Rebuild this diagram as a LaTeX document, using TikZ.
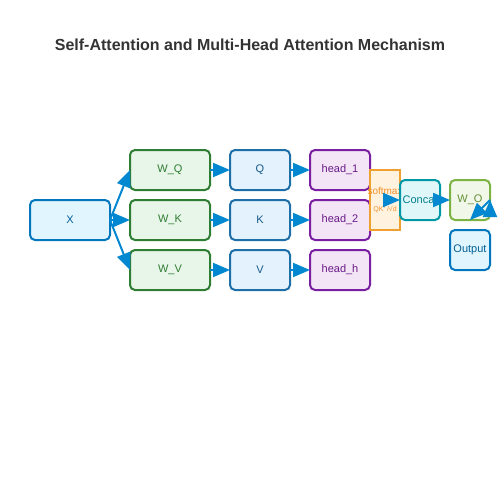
\documentclass[tikz,border=0pt]{standalone}
\usepackage{fontspec}
\setmainfont{Liberation Sans}
\usepackage{xcolor}
\usetikzlibrary{positioning, arrows.meta}
\definecolor{flowblue}{HTML}{0288D1}
\definecolor{inblue}{HTML}{0277BD}
\definecolor{inback}{HTML}{E1F5FE}
\definecolor{wgreen}{HTML}{2E7D32}
\definecolor{wback}{HTML}{E8F5E9}
\definecolor{qblue}{HTML}{1E6FA8}
\definecolor{qback}{HTML}{E3F2FD}
\definecolor{hpurple}{HTML}{7B1FA2}
\definecolor{hback}{HTML}{F3E5F5}
\definecolor{smorange}{HTML}{F0A030}
\definecolor{smback}{HTML}{FFF3E0}
\definecolor{cteal}{HTML}{0097A7}
\definecolor{cback}{HTML}{E0F7FA}
\definecolor{olive}{HTML}{7CB342}
\definecolor{oback}{HTML}{F1F8E9}
\tikzset{
	->,
	>={Triangle[length=17pt, width=14pt]},
	box/.style={draw, rounded corners=5pt, line width=2pt, outer sep=0pt,
		inner sep=0pt, minimum height=40pt, align=center, font=\fontsize{11}{13}\selectfont},
	inbox/.style={box, fill=inback, draw=inblue, text=inblue!80!black, minimum width=80pt},
	wbox/.style={box, fill=wback, draw=wgreen, text=wgreen, minimum width=80pt},
	qbox/.style={box, fill=qback, draw=qblue, text=qblue!80!black, minimum width=60pt},
	headbox/.style={box, fill=hback, draw=hpurple, text=hpurple!85!black, minimum width=60pt},
	smbox/.style={box, rounded corners=0pt, fill=smback, draw=smorange, text=smorange!90!red,
		minimum width=30pt, minimum height=60pt},
	catbox/.style={box, fill=cback, draw=cteal, text=cteal!85!black, minimum width=40pt},
	wobox/.style={box, fill=oback, draw=olive, text=olive!80!black, minimum width=40pt},
	outbox/.style={box, fill=inback, draw=inblue, text=inblue!80!black, minimum width=40pt}
}
\newcommand{\spill}[1]{\makebox[0pt]{#1}}

\begin{document}
\begin{tikzpicture}[x=1pt, y=-1pt, line width=2pt, flowblue]
	\useasboundingbox (0,0) rectangle (500,500);
	
	\node[font=\bfseries\fontsize{16}{19}\selectfont, text=black!80] (title) at (250,45)
		{Self-Attention and Multi-Head Attention Mechanism};
	
	\node[inbox] (x) at (70,220) {X};
	\node[wbox, right=20pt of x] (wk) {W\_K};
	\node[wbox, above=10pt of wk] (wq) {W\_Q};
	\node[wbox, below=10pt of wk] (wv) {W\_V};
	
	\node[qbox, right=20pt of wq] (q) {Q};
	\node[qbox, right=20pt of wk] (k) {K};
	\node[qbox, right=20pt of wv] (v) {V};
	
	\node[headbox, right=20pt of q] (h1) {head\_1};
	\node[headbox, right=20pt of k] (h2) {head\_2};
	\node[headbox, right=20pt of v] (hh) {head\_h};
	
	\node[smbox, right=0pt of h2.north east] (soft)
		{\fontsize{10}{12}\selectfont\spill{softmax}\\[4pt]{\fontsize{7}{8}\selectfont\spill{QK\textsuperscript{T}/√d}}};
	\node[catbox, right=0pt of soft] (concat) {\spill{Concat}};
	\node[wobox, right=10pt of concat] (wo) {W\_O};
	\node[outbox, below=10pt of wo] (out) {\spill{Output}};
	\coordinate[above=10pt of out.north] (outtop);
	
	\draw
	(x.east) edge (wq.west)
	(x.east) edge (wk.west)
	(x.east) edge (wv.west)
	
	(wq) edge (q)
	(wk) edge (k)
	(wv) edge (v)
	
	(q) edge (h1)
	(k) edge (h2)
	(v) edge (hh)
	
	(soft.center) edge (concat.west)
	(concat) edge (wo)
	(wo.east) edge (outtop)
	;
\end{tikzpicture}
\end{document}
